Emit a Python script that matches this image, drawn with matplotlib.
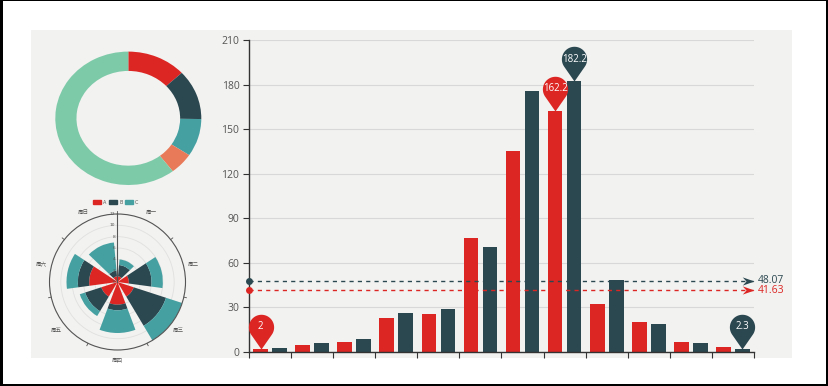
import matplotlib
matplotlib.use('Agg')
import matplotlib.pyplot as plt
import numpy as np
from decimal import Decimal, ROUND_HALF_UP
from matplotlib.path import Path
from matplotlib.patches import Rectangle, Patch

# ---------------- data ----------------
months = ['1月', '2月', '3月', '4月', '5月', '6月', '7月', '8月', '9月', '10月', '11月', '12月']
rainfall = [2.0, 4.9, 7.0, 23.2, 25.6, 76.7, 135.6, 162.2, 32.6, 20.0, 6.4, 3.3]
evaporation = [2.6, 5.9, 9.0, 26.4, 28.7, 70.7, 175.6, 182.2, 48.7, 18.8, 6.0, 2.3]
bar_yticks = [0, 30, 60, 90, 120, 150, 180, 210]

pie_labels = ['直接访问', '邮件营销', '联盟广告', '视频广告', '搜索引擎']
pie_values = [335, 310, 234, 135, 1548]

days = ['周一', '周二', '周三', '周四', '周五', '周六', '周日']
polar_a = [1, 2, 3, 4, 3, 5, 1]
polar_b = [2, 4, 6, 1, 3, 2, 1]
polar_c = [1, 2, 3, 4, 1, 2, 5]
polar_ticks = [0, 2, 4, 6, 8, 10, 12]
polar_names = ['A', 'B', 'C']

# ---------------- style ----------------
RED = '#dc2624'
DARK = '#2b4750'
TEAL = '#45a0a2'
SALMON = '#e87a59'
GREEN = '#7dcaa9'
PANEL = '#f2f2f0'
AXIS = '#333333'
LABEL = '#555555'
GRID = '#d8d8d8'
CJK = ['Noto Sans CJK SC', 'DejaVu Sans']

W, H = 829, 386
fig = plt.figure(figsize=(W / 100, H / 100), dpi=100)
fig.patch.set_facecolor('white')


def fx(px):
    return px / W


def fy(py):
    return 1 - py / H


# panel background
fig.add_artist(Rectangle((fx(31), fy(358)), fx(792 - 31), (358 - 30) / H,
                         transform=fig.transFigure, facecolor=PANEL,
                         edgecolor='none', zorder=-10))
# black frame
for (x0, y0, w, h) in [(0, 0, 3, H), (0, 0, W, 1), (826, 0, 3, H), (0, 384, W, 2)]:
    fig.add_artist(Rectangle((fx(x0), fy(y0 + h)), fx(w), h / H,
                             transform=fig.transFigure, facecolor='black',
                             edgecolor='none', zorder=10))

# ---------------- main bar chart ----------------
ax = fig.add_axes([fx(249), fy(352), fx(754 - 249), (352 - 40) / H])
ax.set_facecolor('none')
n = len(months)
x = np.arange(n)
bw = 0.348
ax.bar(x + 0.274, rainfall, width=bw, color=RED, zorder=2)
ax.bar(x + 0.726, evaporation, width=bw, color=DARK, zorder=2)
ax.set_xlim(0, n)
ax.set_ylim(0, 210)
ax.set_yticks(bar_yticks)
ax.set_yticklabels([str(v) for v in bar_yticks], fontsize=7.5, color=LABEL,
                   family='Open Sans')
ax.set_xticks(np.arange(n + 1))
ax.set_xticklabels([])
ax.tick_params(axis='both', length=4, width=0.8, color=AXIS, pad=3)
for s in ['top', 'right']:
    ax.spines[s].set_visible(False)
for s in ['left', 'bottom']:
    ax.spines[s].set_color(AXIS)
    ax.spines[s].set_linewidth(1)
ax.yaxis.grid(True, color=GRID, lw=0.8)
ax.set_axisbelow(True)

# pin marker
h_c, r_c = 1.75, 1.0
beta = np.degrees(np.arccos(r_c / h_c))
angs = np.radians(np.linspace(-90 + beta, 270 - beta, 48))
pverts = [(0, 0)] + [(r_c * np.cos(t), h_c + r_c * np.sin(t)) for t in angs] + [(0, 0)]
pcodes = [Path.MOVETO] + [Path.LINETO] * len(angs) + [Path.CLOSEPOLY]
PIN = Path(pverts, pcodes)
PIN_MS = 50
PIN_OFF = h_c * (0.5 / (h_c + r_c)) * PIN_MS


def fmt(v):
    return ('%g' % v)


def pins(series, offset, color):
    i_max = int(np.argmax(series))
    i_min = int(np.argmin(series))
    for i in (i_max, i_min):
        v = series[i]
        ax.plot(i + offset, v, marker=PIN, markersize=PIN_MS, color=color,
                mec='none', zorder=5, clip_on=False)
        ax.annotate(fmt(v), (i + offset, v), xytext=(0, PIN_OFF),
                    textcoords='offset points', ha='center', va='center',
                    color='white', fontsize=7, family='Open Sans', zorder=6)


pins(rainfall, 0.274, RED)
pins(evaporation, 0.726, DARK)

# average mark lines
ARROW = Path([(0, 0), (-2, 0.7), (-1.35, 0), (-2, -0.7), (0, 0)],
             [Path.MOVETO, Path.LINETO, Path.LINETO, Path.LINETO, Path.CLOSEPOLY])
for series, color in [(evaporation, DARK), (rainfall, RED)]:
    total = 0.0
    for v in series:
        total += v
    m = total / len(series)
    m_txt = str(Decimal(m).quantize(Decimal('0.01'), rounding=ROUND_HALF_UP))
    ax.plot([0, n], [m, m], color=color, lw=1, ls=(0, (3, 3)), zorder=4)
    ax.plot(0, m, marker='o', markersize=5, color=color, mec='none',
            zorder=5, clip_on=False)
    ax.plot(n, m, marker=ARROW, markersize=17, color=color, mec='none',
            zorder=5, clip_on=False)
    ax.annotate(m_txt, (n, m), xytext=(3, 0), textcoords='offset points',
                ha='left', va='center', color=color, fontsize=7.5,
                family='Open Sans', annotation_clip=False)

# ---------------- donut ----------------
axd = fig.add_axes([fx(128.3 - 73), fy(118.3 + 66.7), fx(146), 133.4 / H])
axd.pie(pie_values, colors=[RED, DARK, TEAL, SALMON, GREEN], startangle=90,
        counterclock=False, wedgeprops=dict(width=0.29, edgecolor='none'))
axd.set_aspect('auto')
axd.set_xlim(-1, 1)
axd.set_ylim(-1, 1)
axd.axis('off')

# ---------------- polar stacked bar ----------------
cx, cy, R = 117.5, 282, 68
axp = fig.add_axes([fx(cx - R), fy(cy + R), fx(2 * R), 2 * R / H], projection='polar')
axp.set_facecolor('none')
axp.set_theta_zero_location('N')
axp.set_theta_direction(-1)
k = len(days)
step = 2 * np.pi / k
theta = (np.arange(k) + 0.5) * step
pw = 0.8 * step
a = np.array(polar_a)
b = np.array(polar_b)
c = np.array(polar_c)
axp.bar(theta, a, width=pw, color=RED, zorder=2)
axp.bar(theta, b, width=pw, bottom=a, color=DARK, zorder=2)
axp.bar(theta, c, width=pw, bottom=a + b, color=TEAL, zorder=2)
axp.set_ylim(0, polar_ticks[-1])
axp.set_yticks(polar_ticks[1:])
axp.set_yticklabels([])
axp.yaxis.grid(True, color='#e0e0e0', lw=0.6)
axp.xaxis.grid(False)
axp.set_xticks(theta)
axp.set_xticklabels(days, fontsize=4, color=LABEL, family=CJK)
axp.tick_params(axis='x', pad=0, length=0)
axp.spines['polar'].set_color('#555555')
axp.spines['polar'].set_linewidth(0.8)
axp.set_axisbelow(True)
# radius axis line and labels
axp.plot([0, 0], [0, polar_ticks[-1]], color='#555555', lw=0.8, zorder=3)
for t in polar_ticks:
    axp.annotate(str(t), (0, t), xytext=(-1.5, 0), textcoords='offset points',
                 ha='right', va='center', fontsize=3.2, color=LABEL)
# angle axis ticks at category boundaries
for j in range(k):
    axp.plot([j * step, j * step], [polar_ticks[-1], polar_ticks[-1] * 1.04],
             color='#555555', lw=0.6, clip_on=False)

# legend
fig.legend(handles=[Patch(color=RED), Patch(color=DARK), Patch(color=TEAL)],
           labels=polar_names, loc='center', bbox_to_anchor=(fx(116), fy(202)),
           ncol=3, fontsize=3.5, frameon=False, handlelength=1.6,
           handleheight=0.8, handletextpad=0.4, columnspacing=0.6,
           labelcolor=LABEL)

fig.savefig('out.png', dpi=100, facecolor='white')
